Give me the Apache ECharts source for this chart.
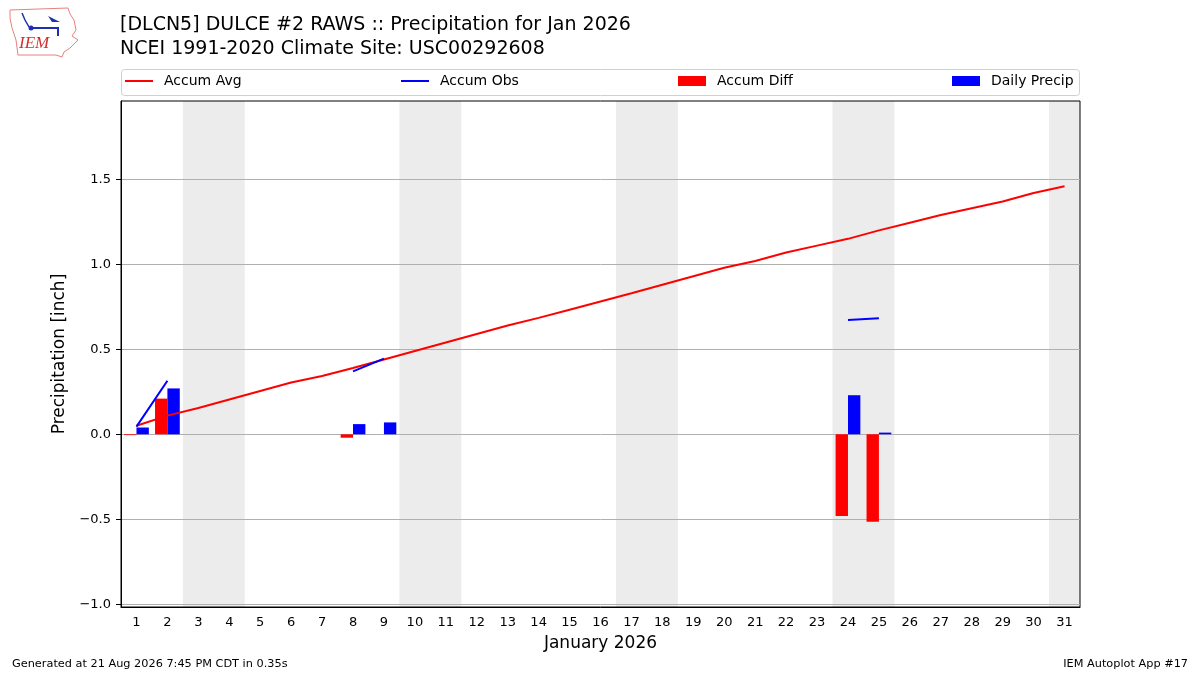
<!DOCTYPE html>
<html><head><meta charset="utf-8">
<script src="https://cdn.jsdelivr.net/npm/echarts@6/dist/echarts.min.js"></script>
<style>html,body{margin:0;padding:0;background:#fff}#c{width:1200px;height:675px}</style>
</head><body><div id="c"></div>
<script>
const days = ['1','2','3','4','5','6','7','8','9','10','11','12','13','14','15','16','17','18','19','20','21','22','23','24','25','26','27','28','29','30','31'];
const accumAvg = [0.05,0.11,0.155,0.205,0.255,0.305,0.343,0.39,0.44,0.49,0.54,0.59,0.64,0.685,0.733,0.781,0.83,0.88,0.93,0.98,1.02,1.07,1.11,1.15,1.20,1.245,1.29,1.33,1.37,1.42,1.46];
const accumObs = [0.045,0.315,null,null,null,null,null,0.37,0.445,null,null,null,null,null,null,null,null,null,null,null,null,null,null,0.672,0.683,null,null,null,null,null,null];
const accumDiff = [-0.005,0.21,null,null,null,null,null,-0.02,null,null,null,null,null,null,null,null,null,null,null,null,null,null,null,-0.48,-0.515,null,null,null,null,null,null];
const dailyPrecip = [0.04,0.27,null,null,null,null,null,0.06,0.07,null,null,null,null,null,null,null,null,null,null,null,null,null,null,0.23,0.01,null,null,null,null,null,null];
const yTicks = [-1.0,-0.5,0.0,0.5,1.0,1.5];
const weekends = [[2.5,4.5],[9.5,11.5],[16.5,18.5],[23.5,25.5],[30.5,31.5]];

const FONT = 'DejaVu Sans';
const chart = echarts.init(document.getElementById('c'), null, {renderer:'canvas'});
function fmtY(v){
  for (const t of yTicks){ if (Math.abs(t - v) < 1e-6) return (t < 0 ? '\u2212' : '') + Math.abs(t).toFixed(1); }
  return '';
}
function legendAt(name, left, icon, h){
  return {show:true, data:[name], left:left, top:74, padding:0, icon:icon, itemWidth:28, itemHeight:h,
    selectedMode:false, textStyle:{fontFamily:FONT, fontSize:14, color:'#000', padding:[0,0,0,6]}};
}
chart.setOption({
  animation:false,
  backgroundColor:'#fff',
  grid:{left:121, right:120, top:101, bottom:68, show:true, borderColor:'#000', borderWidth:1, backgroundColor:'transparent'},
  legend:[
    legendAt('Accum Avg',125,'rect',2),
    legendAt('Accum Obs',401,'rect',2),
    legendAt('Accum Diff',678,'rect',10),
    legendAt('Daily Precip',952,'rect',10)
  ],
  xAxis:[{
    type:'category', data:days, boundaryGap:true,
    name:'January 2026', nameLocation:'middle', nameGap:28,
    nameTextStyle:{fontFamily:FONT, fontSize:17, color:'#000'},
    axisLine:{onZero:false, lineStyle:{color:'#000', width:1}},
    axisTick:{alignWithLabel:true, length:5, lineStyle:{color:'#000'}},
    axisLabel:{fontFamily:FONT, fontSize:13, color:'#000', margin:9, interval:0},
    splitLine:{show:false}
  },{
    type:'value', min:0.5, max:31.5, show:false
  }],
  yAxis:{
    type:'value', min:-1.016, max:1.961, splitNumber:6,
    name:'Precipitation [inch]', nameLocation:'middle', nameGap:51,
    nameTextStyle:{fontFamily:FONT, fontSize:17, color:'#000'},
    axisLine:{show:true, lineStyle:{color:'#000'}},
    axisTick:{show:true, length:5, lineStyle:{color:'#000'}, customValues:yTicks},
    axisLabel:{fontFamily:FONT, fontSize:13, color:'#000', margin:10, formatter:fmtY, customValues:yTicks},
    splitLine:{show:true, lineStyle:{color:'#b0b0b0', width:1}}
  },
  series:[
    {type:'custom', xAxisIndex:1, yAxisIndex:0, z:-1, silent:true, data:weekends,
     renderItem:function(params, api){
       const a = api.coord([api.value(0), 0]);
       const b = api.coord([api.value(1), 0]);
       const cs = params.coordSys;
       return {type:'rect', shape:{x:a[0], y:cs.y, width:b[0]-a[0], height:cs.height}, style:{fill:'#ececec'}};
     }},
    {name:'Accum Diff', type:'bar', data:accumDiff, barWidth:'40%', barGap:'0%', itemStyle:{color:'#ff0000'}, z:2},
    {name:'Daily Precip', type:'bar', data:dailyPrecip, barWidth:'40%', barGap:'0%', itemStyle:{color:'#0000ff'}, z:2},
    {name:'Accum Avg', type:'line', data:accumAvg, showSymbol:false, symbol:'none', lineStyle:{color:'#ff0000', width:2}, itemStyle:{color:'#ff0000'}, z:3},
    {name:'Accum Obs', type:'line', data:accumObs, showSymbol:false, symbol:'none', connectNulls:false, lineStyle:{color:'#0000ff', width:2}, itemStyle:{color:'#0000ff'}, z:3}
  ],
  graphic:[
    {type:'rect', z:-10, shape:{x:121.5, y:69.5, width:958, height:26, r:3}, style:{fill:'#fff', stroke:'#d0d0d0', lineWidth:1}},
    {type:'text', left:120, top:16, style:{text:'[DLCN5] DULCE #2 RAWS :: Precipitation for Jan 2026', font:'19px "DejaVu Sans"', fill:'#000'}},
    {type:'text', left:120, top:40, style:{text:'NCEI 1991-2020 Climate Site: USC00292608', font:'19px "DejaVu Sans"', fill:'#000'}},
    {type:'text', left:12, top:659, style:{text:'Generated at 21 Aug 2026 7:45 PM CDT in 0.35s', font:'11.3px "DejaVu Sans"', fill:'#000'}},
    {type:'text', right:12, top:659, style:{text:'IEM Autoplot App #17', font:'11.3px "DejaVu Sans"', fill:'#000'}},
    {type:'polygon', shape:{points:[[10,10],[68,8],[70,14],[74,20],[76,30],[72,36],[78,40],[70,48],[64,52],[62,57],[56,55],[18,55],[16,40],[12,28],[10,18]]}, style:{fill:'none', stroke:'#e88080', lineWidth:1}},
    {type:'polyline', shape:{points:[[30,28],[58,28],[58,36]]}, style:{stroke:'#1f2fb0', lineWidth:2, fill:'none'}},
    {type:'circle', shape:{cx:31, cy:28, r:2.5}, style:{fill:'#1f2fb0'}},
    {type:'polyline', shape:{points:[[22,13],[25,20],[29,27]]}, style:{stroke:'#1f2fb0', lineWidth:1.5, fill:'none'}},
    {type:'polygon', shape:{points:[[48,16],[56,20],[60,22],[52,22]]}, style:{fill:'#1f2fb0'}},
    {type:'text', left:19, top:35, style:{text:'IEM', font:'italic 17px "Liberation Serif"', fill:'#d03030'}}
  ]
});
</script></body></html>
